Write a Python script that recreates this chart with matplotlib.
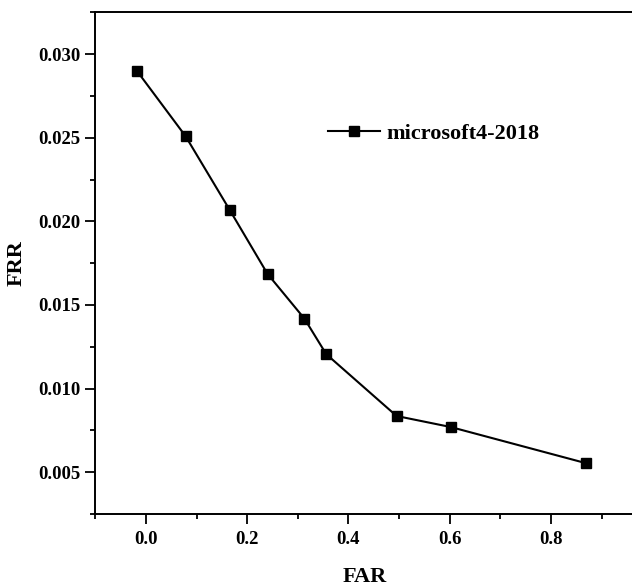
#!/usr/bin/env python3
import matplotlib
matplotlib.use("Agg")
import matplotlib.pyplot as plt
from matplotlib.ticker import MultipleLocator


far = [-0.018, 0.078, 0.165, 0.240, 0.313, 0.356, 0.495, 0.602, 0.869]
frr = [0.0290, 0.0251, 0.0207, 0.01686, 0.01418, 0.01206, 0.00836, 0.0077, 0.00554]
label = "microsoft4-2018"


def main():
    plt.rcParams['font.family'] = ['Liberation Serif', 'DejaVu Serif']
    fig = plt.figure(figsize=(6.32, 5.88), dpi=100)
    ax = fig.add_axes([0.151, 0.1259, 0.8537, 0.853])

    ax.plot(far, frr, color='black', lw=1.5, marker='s', markersize=7.5,
            label=label)

    ax.set_xlim(-0.1, 0.966)
    ax.set_ylim(0.0025, 0.0325)
    ax.xaxis.set_major_locator(MultipleLocator(0.2))
    ax.xaxis.set_minor_locator(MultipleLocator(0.1))
    ax.yaxis.set_major_locator(MultipleLocator(0.005))
    ax.yaxis.set_minor_locator(MultipleLocator(0.0025))
    ax.xaxis.set_major_formatter(plt.FuncFormatter(lambda v, p: f"{v:.1f}"))
    ax.yaxis.set_major_formatter(plt.FuncFormatter(lambda v, p: f"{v:.3f}"))

    ax.tick_params(which='major', direction='out', length=7, width=1.3,
                   labelsize=13.5, pad=4)
    ax.tick_params(which='minor', direction='out', length=3.8, width=1.3)
    ax.tick_params(axis='x', which='major', pad=5)
    for t in ax.get_xticklabels() + ax.get_yticklabels():
        t.set_fontweight('bold')
    for s in ax.spines.values():
        s.set_linewidth(1.4)

    ax.set_xlabel("FAR", fontsize=16, fontweight='bold', labelpad=14)
    ax.set_ylabel("FRR", fontsize=16, fontweight='bold', labelpad=8)

    ax.legend(loc='center left', bbox_to_anchor=(0.431, 0.758), frameon=False,
              prop={'weight': 'bold', 'size': 16},
              handlelength=2.34, handletextpad=0.3, borderpad=0,
              borderaxespad=0)

    fig.savefig("out.png", dpi=100)


if __name__ == '__main__':
    main()
